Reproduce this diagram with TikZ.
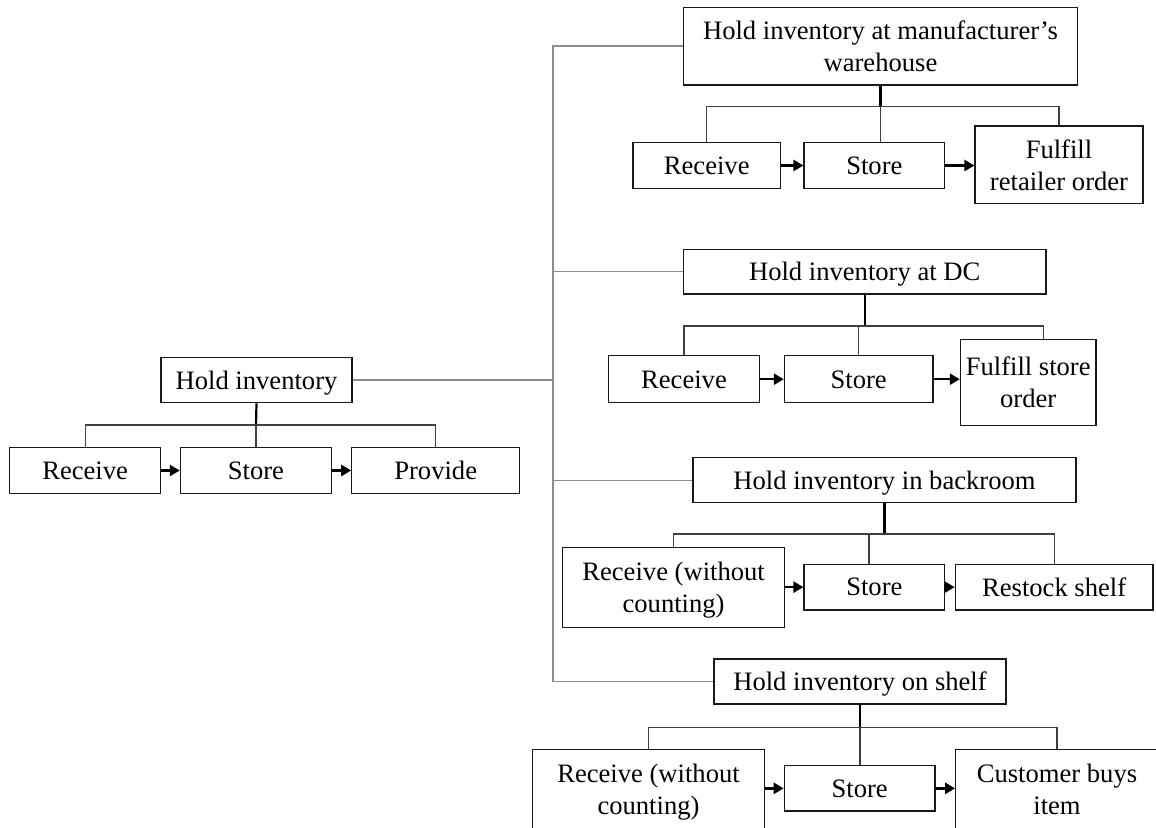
\documentclass[tikz,border=0pt]{standalone}
\usepackage{fontspec}
\setmainfont{Liberation Serif}
\usetikzlibrary{arrows.meta}
\begin{document}
\begin{tikzpicture}[x=1pt,y=-1pt,
  box/.style={draw=black!90, line width=1.2pt, inner sep=0pt, align=center,
    text depth=0pt, font=\fontsize{26.6}{32}\selectfont},
  spine/.style={draw=black!45, line width=1.4pt},
  trunk/.style={draw=black, line width=2.2pt},
  branch/.style={draw=black!75, line width=1.1pt},
  flow/.style={draw=black, line width=2.4pt, -{Triangle[length=10pt,width=11pt]}},
]
\useasboundingbox (0,0) rectangle (1156,827);
\clip (0,0) rectangle (1156,827);

% generic process
\node[box, minimum width=191pt, minimum height=45.4pt] (root) at (256.5,380) {Hold inventory};
\node[box, minimum width=151.1pt, minimum height=45.6pt] (L1) at (85.15,470.5) {Receive};
\node[box, minimum width=151pt, minimum height=45.6pt] (L2) at (255.9,470.5) {Store};
\node[box, minimum width=167.8pt, minimum height=45.6pt] (L3) at (435.7,470.5) {Provide};

% manufacturer's warehouse
\node[box, minimum width=394.1pt, minimum height=77.7pt] (M) at (880.45,46.15) {Hold inventory at manufacturer’s\\warehouse};
\node[box, minimum width=147.5pt, minimum height=45.6pt] (M1) at (706.75,165.5) {Receive};
\node[box, minimum width=140.7pt, minimum height=45.6pt] (M2) at (874.35,165.5) {Store};
\node[box, minimum width=168pt, minimum height=77.3pt] (M3) at (1059,164.65) {Fulfill\\retailer order};

% distribution centre
\node[box, minimum width=362.6pt, minimum height=44.7pt] (D) at (864.7,271.65) {Hold inventory at DC};
\node[box, minimum width=151pt, minimum height=47pt] (D1) at (684,379.2) {Receive};
\node[box, minimum width=148.6pt, minimum height=47pt] (D2) at (858.7,379.2) {Store};
\node[box, minimum width=135.6pt, minimum height=86pt] (D3) at (1028.2,382.3) {Fulfill store\\order};

% backroom
\node[box, minimum width=383pt, minimum height=45pt] (B) at (884.5,480.2) {Hold inventory in backroom};
\node[box, minimum width=221.6pt, minimum height=80pt] (B1) at (673.6,587.3) {Receive (without\\counting)};
\node[box, minimum width=140.7pt, minimum height=45.7pt] (B2) at (874.35,587.15) {Store};
\node[box, minimum width=197.7pt, minimum height=45.7pt] (B3) at (1054.15,587.15) {Restock shelf};

% shelf
\node[box, minimum width=292pt, minimum height=45pt] (S) at (860,681.5) {Hold inventory on shelf};
\node[box, minimum width=231.6pt, minimum height=80pt] (S1) at (648.5,789.3) {Receive (without\\counting)};
\node[box, minimum width=150.7pt, minimum height=45.3pt] (S2) at (859.65,788.35) {Store};
\node[box, minimum width=202.6pt, minimum height=80pt] (S3) at (1057,789.3) {Customer buys\\item};

% grey spine from the generic process to the four locations
\coordinate (sp) at (553,380);
\draw[spine] (root.east) -- (sp);
\draw[spine] (M.west) -| (sp);
\draw[spine] (D.west) -| (sp);
\draw[spine] (B.west) -| (sp);
\draw[spine] (S.west) -| (sp);

% decomposition brackets
\coordinate (Lk) at (256,425);
\draw[trunk] (root.south) -- (Lk);
\draw[branch] (L1.north) |- (Lk) -| (L3.north);
\draw[branch] (Lk) -- (Lk |- L2.north);

\coordinate (Mk) at (880.45,106.7);
\draw[trunk] (M.south) -- (Mk);
\draw[branch] (M1.north) |- (Mk) -| (M3.north);
\draw[branch] (Mk) -- (Mk |- M2.north);

\coordinate (Dk) at (864.7,326);
\coordinate (Dr) at (1043.7,326);
\draw[trunk] (D.south) -- (Dk);
\draw[branch] (D1.north) |- (Dr) -- (Dr |- D3.north);
\draw[branch] (D2.north |- Dk) -- (D2.north);

\coordinate (Bk) at (884.5,534);
\coordinate (Bm) at (869,534);
\draw[trunk] (B.south) -- (Bk);
\draw[branch] (B1.north) |- (Bk) -| (B3.north);
\draw[branch] (Bm) -- (Bm |- B2.north);

\coordinate (Sk) at (860,727.3);
\draw[trunk] (S.south) -- (Sk);
\draw[branch] (S1.north) |- (Sk) -| (S3.north);
\draw[branch] (Sk) -- (Sk |- S2.north);

% process flow arrows
\draw[flow] (L1.east) -- (L2.west);
\draw[flow] (L2.east) -- (L3.west);
\draw[flow] (M1.east) -- (M2.west);
\draw[flow] (M2.east) -- (M3.west |- M2.east);
\draw[flow] (D1.east) -- (D2.west);
\draw[flow] (D2.east) -- (D3.west |- D2.east);
\draw[flow] (B1.east |- B2.west) -- (B2.west);
\draw[flow] (B2.east) -- (B3.west);
\draw[flow] (S1.east |- S2.west) -- (S2.west);
\draw[flow] (S2.east) -- (S3.west |- S2.east);
\end{tikzpicture}
\end{document}
